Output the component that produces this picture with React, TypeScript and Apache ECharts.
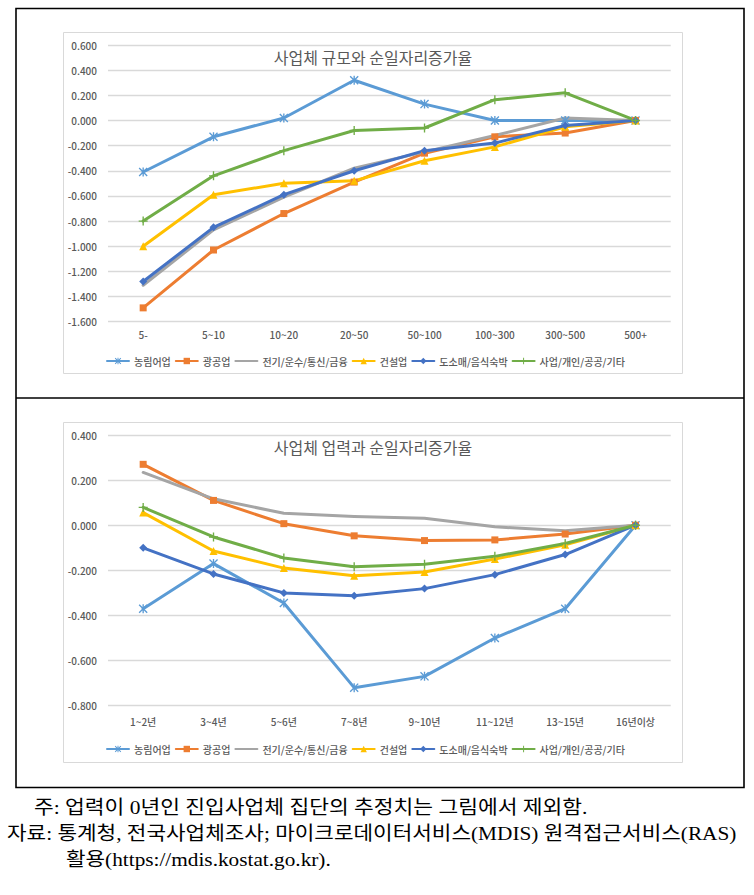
import React, { useEffect, useRef } from "react";
import * as echarts from "echarts";

const seriesNames = ["농림어업", "광공업", "전기/운수/통신/금융", "건설업", "도소매/음식숙박", "사업/개인/공공/기타"];

const sizeCategories = ["5-", "5~10", "10~20", "20~50", "50~100", "100~300", "300~500", "500+"];
const sizeAgri = [-0.41, -0.13, 0.02, 0.32, 0.13, 0.0, 0.0, 0.0];
const sizeMining = [-1.49, -1.03, -0.74, -0.49, -0.26, -0.13, -0.1, 0.0];
const sizeUtil = [-1.31, -0.87, -0.61, -0.38, -0.25, -0.12, 0.02, 0.0];
const sizeConst = [-1.0, -0.59, -0.5, -0.48, -0.32, -0.21, -0.05, 0.0];
const sizeRetail = [-1.28, -0.85, -0.59, -0.4, -0.24, -0.18, -0.04, 0.0];
const sizeService = [-0.8, -0.44, -0.24, -0.08, -0.06, 0.165, 0.22, 0.0];

const ageCategories = ["1~2년", "3~4년", "5~6년", "7~8년", "9~10년", "11~12년", "13~15년", "16년이상"];
const ageAgri = [-0.37, -0.17, -0.345, -0.72, -0.67, -0.5, -0.37, 0.0];
const ageMining = [0.27, 0.11, 0.007, -0.047, -0.068, -0.065, -0.039, 0.0];
const ageUtil = [0.234, 0.117, 0.053, 0.039, 0.031, -0.007, -0.024, 0.0];
const ageConst = [0.056, -0.114, -0.19, -0.224, -0.207, -0.15, -0.087, 0.0];
const ageRetail = [-0.1, -0.216, -0.3, -0.313, -0.281, -0.219, -0.13, 0.0];
const ageService = [0.079, -0.052, -0.145, -0.184, -0.173, -0.138, -0.081, 0.0];

const titleTop = "사업체 규모와 순일자리증가율";
const titleBottom = "사업체 업력과 순일자리증가율";
const note1 = "주: 업력이 0년인 진입사업체 집단의 추정치는 그림에서 제외함.";
const note2 = "자료: 통계청, 전국사업체조사; 마이크로데이터서비스(MDIS) 원격접근서비스(RAS)";
const note3 = "활용(https://mdis.kostat.go.kr).";

const colors = ["#5B9BD5", "#ED7D31", "#A5A5A5", "#FFC000", "#4472C4", "#70AD47"];
const ASTERISK = "path://M4.25,0h1.5v10h-1.5zM1.06,0L10,8.94L8.94,10L0,1.06zM8.94,0L10,1.06L1.06,10L0,8.94z";
const PLUS = "path://M4.25,0h1.5v4.25h4.25v1.5h-4.25v4.25h-1.5v-4.25h-4.25v-1.5h4.25z";
const symbols = [ASTERISK, "rect", "none", "triangle", "diamond", PLUS];
const symbolSizes = [9, 7, 0, 8, 8, 9];

const FONT = "'Noto Sans CJK KR', 'Noto Sans', sans-serif";
const NOTE_FONT = "'Liberation Serif', 'Noto Sans CJK KR', serif";

function measure(text: string, size: number, family: string) {
  const c = document.createElement("canvas");
  const ctx = c.getContext("2d");
  if (!ctx) return 1;
  ctx.font = `${size}px ${family}`;
  return ctx.measureText(text).width;
}

export default function App() {
  const ref = useRef<HTMLDivElement>(null);
  useEffect(() => {
    if (!ref.current) return;
    const chart = echarts.init(ref.current, null, { renderer: "svg" });

    const sizeData = [sizeAgri, sizeMining, sizeUtil, sizeConst, sizeRetail, sizeService];
    const ageData = [ageAgri, ageMining, ageUtil, ageConst, ageRetail, ageService];

    const mkSeries = (data: number[][], idx: number) =>
      data.map((d, i) => ({
        name: seriesNames[i],
        type: "line",
        xAxisIndex: idx,
        yAxisIndex: idx,
        data: d,
        symbol: symbols[i],
        symbolSize: symbolSizes[i],
        showSymbol: symbols[i] !== "none",
        lineStyle: { width: 3, color: colors[i], join: "round", cap: "round" },
        itemStyle: { color: colors[i], borderWidth: 0 },
        emphasis: { disabled: true },
      }));

    const fmt = (v: number) => (Math.abs(v) < 1e-9 ? "0.000" : v.toFixed(3));

    const noteSize = 19;
    const n1w = measure(note1, noteSize, NOTE_FONT);
    const n2w = measure(note2, noteSize, NOTE_FONT);
    const n3w = measure(note3, noteSize, NOTE_FONT);

    const noteText = (text: string, x: number, y: number, targetW: number, w: number) => ({
      type: "text",
      x,
      y,
      scaleX: targetW / w,
      style: {
        text,
        fill: "#000",
        fontSize: noteSize,
        fontFamily: NOTE_FONT,
        align: "left",
        verticalAlign: "middle",
      },
    });

    const legendData = seriesNames.map((n, i) =>
      symbols[i] === "none" ? { name: n, itemStyle: { opacity: 0 } } : { name: n }
    );

    const option: any = {
      animation: false,
      color: colors,
      grid: [
        { left: 108, top: 45, width: 562.7, height: 276.7 },
        { left: 108, top: 435, width: 562.7, height: 270.7 },
      ],
      xAxis: [0, 1].map((i) => ({
        type: "category",
        gridIndex: i,
        data: i === 0 ? sizeCategories : ageCategories,
        boundaryGap: true,
        axisLine: { show: false },
        axisTick: { show: false },
        axisLabel: { color: "#595959", fontSize: 10, fontWeight: 500, fontFamily: FONT, margin: i === 0 ? 8 : 11 },
      })),
      yAxis: [0, 1].map((i) => ({
        type: "value",
        gridIndex: i,
        min: i === 0 ? -1.6 : -0.8,
        max: i === 0 ? 0.6 : 0.4,
        interval: 0.2,
        axisLine: { show: false },
        axisTick: { show: false },
        splitLine: { lineStyle: { color: "#D9D9D9", width: 1.3 } },
        axisLabel: { color: "#595959", fontSize: 10, fontWeight: 500, fontFamily: FONT, margin: 11, formatter: fmt },
      })),
      legend: [351, 739].map((top) => ({
        top,
        left: 101,
        itemWidth: 22,
        itemHeight: 8,
        itemGap: 4,
        selectedMode: false,
        textStyle: { color: "#595959", fontSize: 10, fontWeight: 500, fontFamily: FONT },
        data: legendData,
      })),
      series: [...mkSeries(sizeData, 0), ...mkSeries(ageData, 1)],
      graphic: [
        { type: "rect", shape: { x: 16, y: 8.5, width: 728, height: 779 }, style: { fill: "none", stroke: "#000", lineWidth: 1.6 } },
        { type: "line", shape: { x1: 16, y1: 398, x2: 744, y2: 398 }, style: { stroke: "#000", lineWidth: 1.6 } },
        { type: "rect", shape: { x: 63.5, y: 32.5, width: 619, height: 341 }, style: { fill: "none", stroke: "#D9D9D9", lineWidth: 1 } },
        { type: "rect", shape: { x: 63.5, y: 422.5, width: 619, height: 340 }, style: { fill: "none", stroke: "#D9D9D9", lineWidth: 1 } },
        { type: "text", x: 373, y: 57, style: { text: titleTop, fill: "#595959", fontSize: 16, fontFamily: FONT, align: "center", verticalAlign: "middle" } },
        { type: "text", x: 373, y: 447, style: { text: titleBottom, fill: "#595959", fontSize: 16, fontFamily: FONT, align: "center", verticalAlign: "middle" } },
        noteText(note1, 34, 807, 554, n1w),
        noteText(note2, 7, 833, 730, n2w),
        noteText(note3, 66, 859, 265, n3w),
      ],
    };
    chart.setOption(option);
    return () => chart.dispose();
  }, []);

  return (
    <div
      ref={ref}
      style={{ position: "absolute", left: 0, top: 0, width: 754, height: 895, background: "#fff" }}
    />
  );
}
